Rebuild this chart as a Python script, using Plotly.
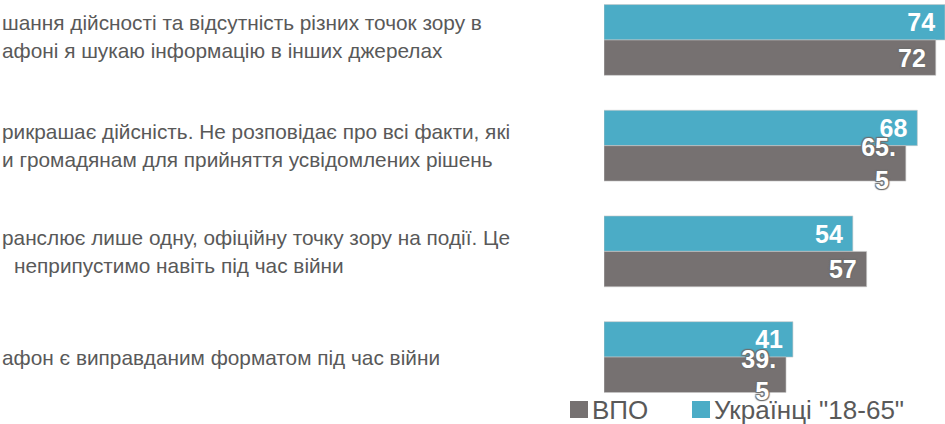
import plotly.graph_objects as go

# ---- data ----
categories = ["c1", "c2", "c3", "c4"]
label_lines = [
    ["шання дійсності та відсутність різних точок зору в",
     "афоні я шукаю інформацію в інших джерелах"],
    ["рикрашає дійсність. Не розповідає про всі факти, які",
     "и громадянам для прийняття усвідомлених рішень"],
    ["ранслює лише одну, офіційну точку зору на події. Це",
     "неприпустимо навіть під час війни"],
    ["афон є виправданим форматом під час війни"],
]
ukr_values = [74, 68, 54, 41]
vpo_values = [72, 65.5, 57, 39.5]
series_names = ["ВПО", 'Українці "18-65"']

TEAL = "#4BACC6"
GRAY = "#767171"
TXT = "#595959"
FONT = "Liberation Sans, Arial, sans-serif"

W, H = 945, 424
L = 604
PW = W - L


def fmt(v):
    s = f"{v:g}"
    if "." in s:
        a, b = s.split(".")
        return a + ".\u00a0<br>" + b
    return s + "\u00a0"


def px_x(px):
    return (px - L) / PW


def px_y(py):
    return (H - py) / H


fig = go.Figure()
fig.add_trace(go.Bar(
    y=categories, x=ukr_values, orientation="h", name=series_names[1],
    marker=dict(color=TEAL, line=dict(color="rgba(200,200,200,0.6)", width=1)),
    text=[fmt(v) for v in ukr_values], textposition="inside",
    insidetextanchor="end", textangle=0, constraintext="none",
    textfont=dict(family=FONT, size=25, color="white", weight="bold"),
    showlegend=False, hoverinfo="skip",
))
fig.add_trace(go.Bar(
    y=categories, x=vpo_values, orientation="h", name=series_names[0],
    marker=dict(color=GRAY, line=dict(color="rgba(200,200,200,0.6)", width=1)),
    text=[fmt(v) for v in vpo_values], textposition="inside",
    insidetextanchor="end", textangle=0, constraintext="none",
    textfont=dict(family=FONT, size=25, color="white", weight="bold",
                  shadow="1px 1px 1px #6e6e6e, -1px -1px 1px #6e6e6e, 1px -1px 1px #6e6e6e, -1px 1px 1px #6e6e6e"),
    showlegend=False, hoverinfo="skip",
))

annotations = []
for i, lines in enumerate(label_lines):
    n = len(lines)
    for j, line in enumerate(lines):
        off = (j - (n - 1) / 2) * 28
        xs = 12 if (i == 2 and j == 1) else 0
        annotations.append(dict(
            x=px_x(xs), xref="paper", y=categories[i], yref="y",
            yshift=-off + (3 if i == 0 else 0), text=line, showarrow=False,
            xanchor="left", yanchor="middle",
            font=dict(family=FONT, size=20.8, color=TXT),
        ))

# legend drawn as squares + text
shapes = []
legend_items = [(GRAY, series_names[0], 570), (TEAL, series_names[1], 692)]
for col, name, px in legend_items:
    shapes.append(dict(
        type="rect", xref="paper", yref="paper",
        x0=px_x(px), x1=px_x(px + 18), y0=px_y(418), y1=px_y(401),
        fillcolor=col, line=dict(width=0),
    ))
    annotations.append(dict(
        x=px_x(px + 20), xref="paper", y=px_y(410), yref="paper",
        text=name, showarrow=False, xanchor="left", yanchor="middle",
        font=dict(family=FONT, size=26, color=TXT),
    ))

fig.update_layout(
    width=W, height=H,
    margin=dict(l=L, r=0, t=0, b=0),
    paper_bgcolor="white", plot_bgcolor="white",
    barmode="group", bargap=0.33, bargroupgap=0,
    xaxis=dict(range=[0, 74], visible=False, fixedrange=True),
    yaxis=dict(range=[3.633, -0.378], visible=False, type="category"),
    annotations=annotations, shapes=shapes,
    showlegend=False,
)

fig.write_html("out.html", config={"displayModeBar": False})
